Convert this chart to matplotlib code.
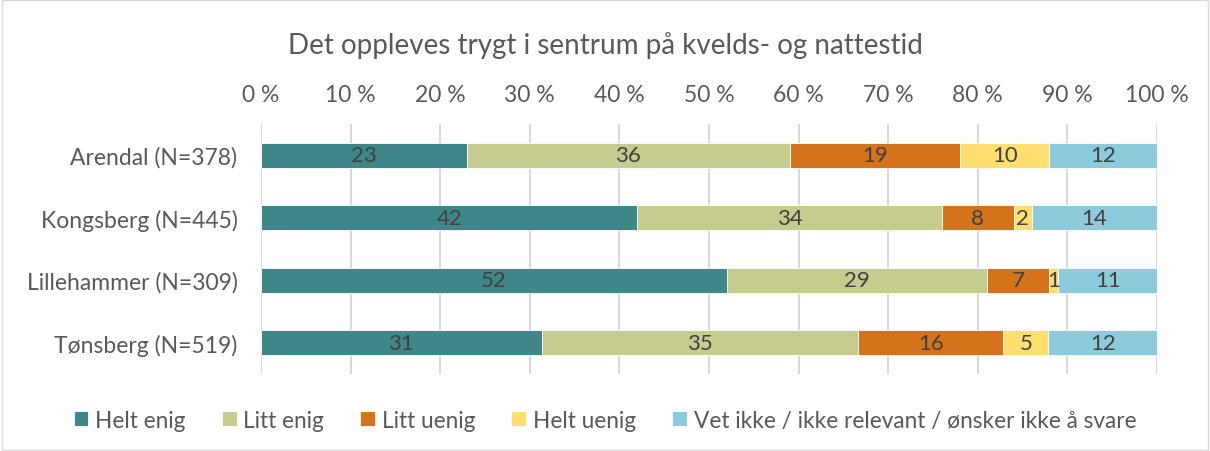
import matplotlib.pyplot as plt
import numpy as np
from matplotlib.patches import Rectangle

plt.rcParams['font.family'] = ['Lato', 'DejaVu Sans']

# data
kommuner = ["Arendal (N=378)", "Kongsberg (N=445)", "Lillehammer (N=309)", "Tønsberg (N=519)"]
helt_enig = [23, 42, 52, 31]
litt_enig = [36, 34, 29, 35]
litt_uenig = [19, 8, 7, 16]
helt_uenig = [10, 2, 1, 5]
vet_ikke = [12, 14, 11, 12]

serie_navn = ["Helt enig", "Litt enig", "Litt uenig", "Helt uenig",
              "Vet ikke / ikke relevant / ønsker ikke å svare"]
farger = ["#3F8789", "#C6CC90", "#D4731C", "#FFDF70", "#8CCADC"]

serier = [helt_enig, litt_enig, litt_uenig, helt_uenig, vet_ikke]
tot = np.sum(serier, axis=0)

fig = plt.figure(figsize=(12.1, 4.52), dpi=100)
ax = fig.add_axes([0.2157, 0.1704, 0.7405, 0.5531])

y = np.arange(len(kommuner))
venstre = np.zeros(len(kommuner))
for navn, vals, farge in zip(serie_navn, serier, farger):
    pct = np.array(vals) / tot * 100
    bars = ax.barh(y, pct, left=venstre, height=0.4, color=farge, label=navn,
                   edgecolor="white", linewidth=0.6, zorder=3)
    for b, v in zip(bars, vals):
        ax.text(b.get_x() + b.get_width() / 2, b.get_y() + b.get_height() / 2, str(v),
                ha="center", va="center", fontsize=16, color="#404040", zorder=4)
    venstre += pct

ax.set_xlim(0, 100)
ax.set_ylim(3.5, -0.5)
ax.set_yticks(y)
ax.set_yticklabels(kommuner, fontsize=16.5, color="#595959")
ax.set_xticks(np.arange(0, 101, 10))
ax.set_xticklabels([f"{t} %" for t in range(0, 101, 10)], fontsize=16.5, color="#595959")
ax.xaxis.tick_top()
ax.tick_params(axis="x", length=0, pad=14)
ax.tick_params(axis="y", length=0, pad=17)
ax.grid(axis="x", color="#D9D9D9", linewidth=1.5, zorder=0)
for s in ax.spines.values():
    s.set_visible(False)

fig.text(0.5, 0.9, "Det oppleves trygt i sentrum på kvelds- og nattestid",
         ha="center", va="center", fontsize=20, color="#595959")

fig.legend(loc="center", bbox_to_anchor=(0.5, 0.068), ncol=5, frameon=False,
           fontsize=16.3, handlelength=0.65, handleheight=0.65, handletextpad=0.3,
           columnspacing=1.6, labelcolor="#595959")

fig.add_artist(Rectangle((0.002, 0.003), 0.996, 0.994, transform=fig.transFigure,
                         fill=False, edgecolor="#D9D9D9", linewidth=1))

fig.savefig("out.png", dpi=100)
